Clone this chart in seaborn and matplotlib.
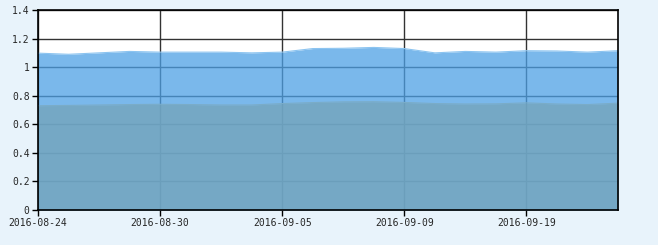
import matplotlib
matplotlib.use("Agg")
import matplotlib.pyplot as plt
import seaborn as sns
import pandas as pd
import numpy as np

dates = ["2016-08-24", "2016-08-25", "2016-08-26", "2016-08-29", "2016-08-30",
         "2016-08-31", "2016-09-01", "2016-09-02", "2016-09-05", "2016-09-06",
         "2016-09-07", "2016-09-08", "2016-09-09", "2016-09-12", "2016-09-13",
         "2016-09-14", "2016-09-19", "2016-09-20", "2016-09-21", "2016-09-22"]
upper = [1.098, 1.090, 1.100, 1.110, 1.105, 1.105, 1.105, 1.100, 1.105, 1.130,
         1.132, 1.138, 1.130, 1.100, 1.110, 1.105, 1.115, 1.113, 1.105, 1.115]
lower = [0.730, 0.732, 0.735, 0.738, 0.740, 0.738, 0.735, 0.735, 0.745, 0.752,
         0.757, 0.758, 0.753, 0.745, 0.742, 0.743, 0.750, 0.742, 0.738, 0.748]
yticks = [0, 0.2, 0.4, 0.6, 0.8, 1.0, 1.2, 1.4]
ytick_labels = ["0", "0.2", "0.4", "0.6", "0.8", "1", "1.2", "1.4"]
xtick_idx = [0, 4, 8, 12, 16]

df = pd.DataFrame({"date": dates, "upper": upper, "lower": lower})
df["idx"] = np.arange(len(df))

sns.set_style("white")
plt.rcParams["font.family"] = ["DejaVu Sans Mono", "DejaVu Sans"]

fig = plt.figure(figsize=(6.58, 2.45), dpi=100)
fig.patch.set_facecolor("#e8f3fb")
ax = fig.add_axes([38 / 658, 1 - 210 / 245, 580 / 658, 200 / 245])
ax.set_facecolor("white")

ax.fill_between(df["idx"], 0, df["upper"], color="#4da0e5", alpha=0.75, lw=0, zorder=2)
ax.fill_between(df["idx"], 0, df["lower"], color="#74a5bd", alpha=0.82, lw=0, zorder=3)
sns.lineplot(data=df, x="idx", y="upper", ax=ax, color="#8cc4f0", lw=0.8, zorder=4)
sns.lineplot(data=df, x="idx", y="lower", ax=ax, color="#7aacc8", lw=0.8, zorder=4)

ax.set_xlim(0, len(df) - 1)
ax.set_ylim(0, 1.4)
ax.set_yticks(yticks)
ax.set_yticklabels(ytick_labels)
ax.set_xticks(xtick_idx)
ax.set_xticklabels([dates[i] for i in xtick_idx])
ax.set_xlabel("")
ax.set_ylabel("")
ax.grid(True, color="#333333", lw=1.0, zorder=1)
ax.set_axisbelow(True)
for s in ax.spines.values():
    s.set_color("black")
    s.set_linewidth(1.2)
    s.set_zorder(5)
ax.tick_params(axis="both", direction="out", length=4, width=1, color="black",
               labelsize=7, pad=2, bottom=True, left=True)

fig.savefig("out.png", dpi=100, facecolor=fig.get_facecolor())
